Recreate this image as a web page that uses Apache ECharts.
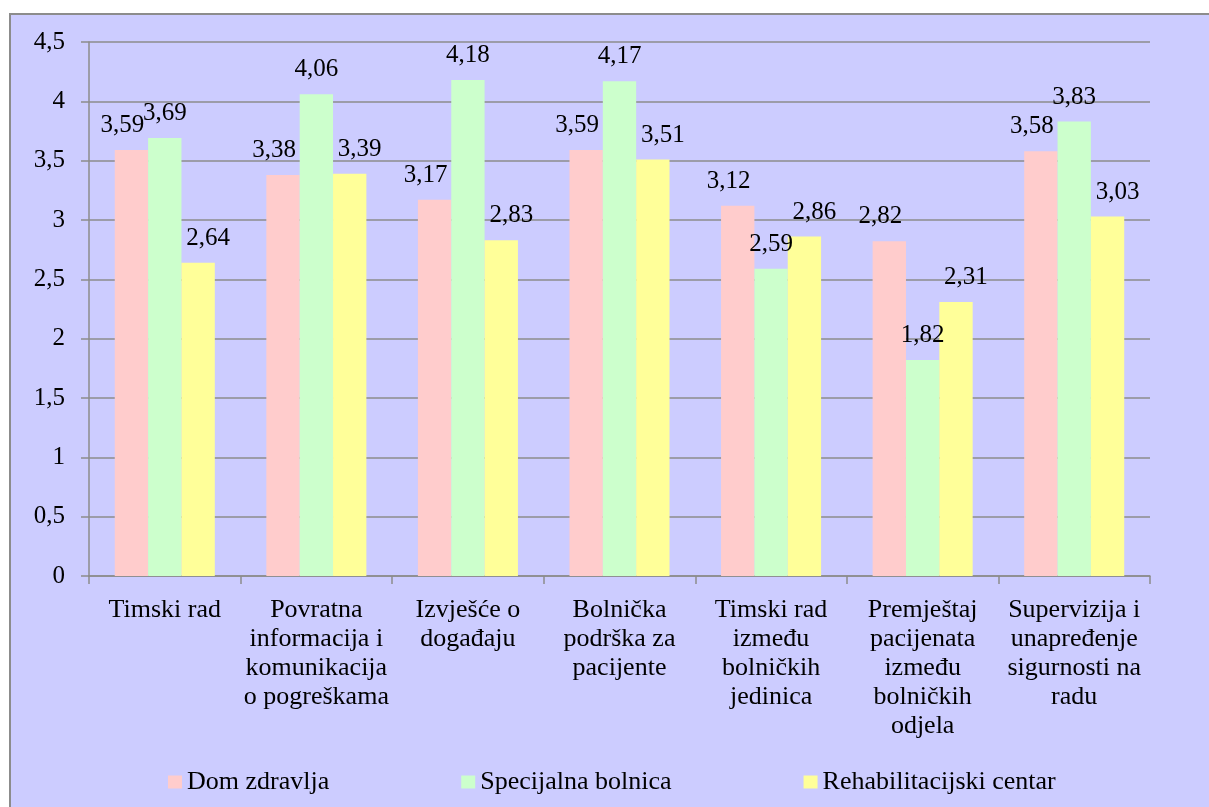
<!DOCTYPE html>
<html>
<head>
<meta charset="utf-8">
<title>Sigurnost pacijenata</title>
<script src="https://cdn.jsdelivr.net/npm/echarts@6/dist/echarts.min.js"></script>
<style>
  html, body { margin: 0; padding: 0; background: #fff; }
  .frame { position: absolute; left: 9px; top: 13px; width: 1210px; height: 800px;
           background: #ccccff; border-left: 2px solid #8c8c8c; border-top: 2px solid #8c8c8c; }
  #chart { position: absolute; left: 0; top: 0; width: 1209px; height: 807px; }
</style>
</head>
<body>
<div class="frame"></div>
<div id="chart"></div>
<script>
// kategorije (x os)
const categories = [
  'Timski rad',
  'Povratna\ninformacija i\nkomunikacija\no pogreškama',
  'Izvješće o\ndogađaju',
  'Bolnička\npodrška za\npacijente',
  'Timski rad\nizmeđu\nbolničkih\njedinica',
  'Premještaj\npacijenata\nizmeđu\nbolničkih\nodjela',
  'Supervizija i\nunapređenje\nsigurnosti na\nradu'
];

const domZdravlja = [3.59, 3.38, 3.17, 3.59, 3.12, 2.82, 3.58];
const specijalnaBolnica = [3.69, 4.06, 4.18, 4.17, 2.59, 1.82, 3.83];
const rehabCentar = [2.64, 3.39, 2.83, 3.51, 2.86, 2.31, 3.03];

const seriesNames = ['Dom zdravlja', 'Specijalna bolnica', 'Rehabilitacijski centar'];
const colors = ['#ffcccc', '#ccffcc', '#ffff99'];

const FONT = 'Liberation Serif';
const comma = v => String(v).replace('.', ',');

const chart = echarts.init(document.getElementById('chart'));

const mkSeries = (name, data, color, dx) => ({
  name: name,
  type: 'bar',
  data: data,
  barGap: '0%',
  barCategoryGap: '34%',
  itemStyle: { color: color },
  label: {
    show: true,
    position: 'top',
    distance: 12,
    offset: [dx, 0],
    color: '#000',
    fontFamily: FONT,
    fontSize: 25,
    formatter: p => p.value.toFixed(2).replace('.', ',')
  }
});

chart.setOption({
  backgroundColor: 'transparent',
  animation: false,
  textStyle: { fontFamily: FONT },
  grid: { left: 89, right: 59, top: 42, bottom: 231 },
  legend: {
    data: seriesNames,
    left: 163,
    top: 764,
    icon: 'rect',
    itemWidth: 14,
    itemHeight: 13,
    itemGap: 132,
    textStyle: { color: '#000', fontFamily: FONT, fontSize: 26 }
  },
  xAxis: {
    type: 'category',
    data: categories,
    axisLine: { lineStyle: { color: '#8c8c8c', width: 1.5 } },
    axisTick: { show: true, length: 8, lineStyle: { color: '#8c8c8c', width: 1.5 } },
    axisLabel: {
      interval: 0,
      color: '#000',
      fontFamily: FONT,
      fontSize: 26,
      lineHeight: 29,
      margin: 20,
      align: 'center'
    }
  },
  yAxis: {
    type: 'value',
    min: 0,
    max: 4.5,
    interval: 0.5,
    axisLine: { show: true, lineStyle: { color: '#8c8c8c', width: 1.5 } },
    axisTick: { show: true, length: 8, lineStyle: { color: '#8c8c8c', width: 1.5 } },
    splitLine: { lineStyle: { color: '#8c8c8c', width: 1.5 } },
    axisLabel: {
      color: '#000',
      fontFamily: FONT,
      fontSize: 25,
      margin: 24,
      formatter: v => comma(v)
    }
  },
  series: [
    mkSeries(seriesNames[0], domZdravlja, colors[0], -9),
    mkSeries(seriesNames[1], specijalnaBolnica, colors[1], 0),
    mkSeries(seriesNames[2], rehabCentar, colors[2], 10)
  ]
});
</script>
</body>
</html>
